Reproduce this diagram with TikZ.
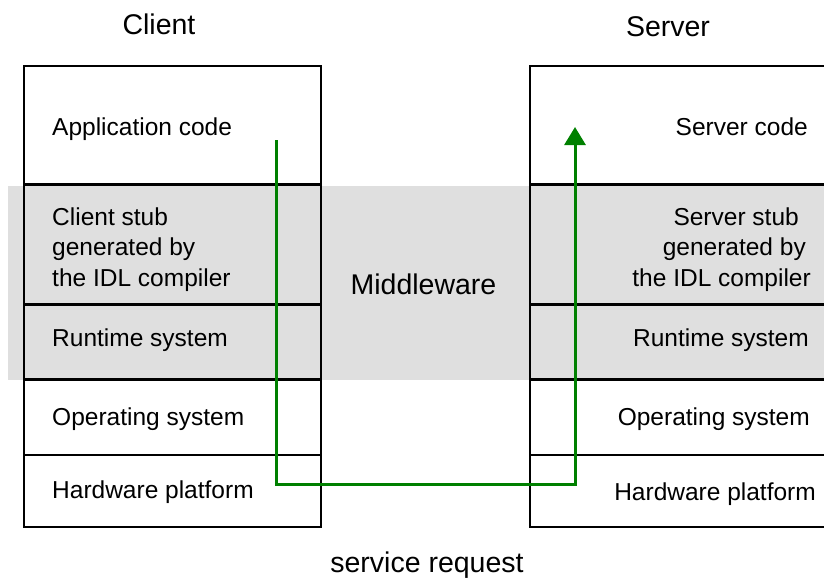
\documentclass[tikz,border=0pt]{standalone}
\usepackage{fontspec}
\setmainfont{Liberation Sans}
\usetikzlibrary{arrows.meta}
\definecolor{bandgray}{RGB}{223,223,223}
\definecolor{flowgreen}{RGB}{0,128,0}
\begin{document}
\begin{tikzpicture}[x=1pt,y=-1pt,
  cell/.style={draw=black,line width=1.4pt,rectangle,inner sep=0pt,minimum width=#1},
  cell/.default=297pt,
  sep/.style={draw=black,line width=2.4pt},
  lbl/.style={inner sep=0pt,font=\fontsize{24.5}{30}\selectfont},
  lbll/.style={lbl,anchor=base west},
  lblr/.style={lbl,anchor=base east},
  big/.style={inner sep=0pt,anchor=base,font=\fontsize{28.5}{34}\selectfont},
  flow/.style={draw=flowgreen,line width=3pt}
]
\useasboundingbox (0,0) rectangle (824,579);
% middleware band
\fill[bandgray] (8,186) rectangle (830,380);

% client stack
\node[cell,minimum height=119pt] (cA) at (172.5,125.5) {};
\node[cell,minimum height=120pt] (cB) at (172.5,245) {};
\node[cell,minimum height=75pt]  (cC) at (172.5,342.5) {};
\node[cell,minimum height=75pt]  (cD) at (172.5,417.5) {};
\node[cell,minimum height=72pt]  (cE) at (172.5,491) {};
% server stack
\node[cell=300pt,minimum height=119pt] (sA) at (680,125.5) {};
\node[cell=300pt,minimum height=120pt] (sB) at (680,245) {};
\node[cell=300pt,minimum height=75pt]  (sC) at (680,342.5) {};
\node[cell=300pt,minimum height=75pt]  (sD) at (680,417.5) {};
\node[cell=300pt,minimum height=72pt]  (sE) at (680,491) {};

% thicker separators
\draw[sep] (cB.north west) -- (cB.north east);
\draw[sep] (cC.north west) -- (cC.north east);
\draw[sep] (cD.north west) -- (cD.north east);
\draw[sep] (sB.north west) -- (sB.north east);
\draw[sep] (sC.north west) -- (sC.north east);
\draw[sep] (sD.north west) -- (sD.north east);

% client labels
\node[lbll] (tA) at (52,135) {Application code};
\node[lbll] (tB1) at (52,225) {Client stub};
\node[lbll] (tB2) at (52,255) {generated by};
\node[lbll] (tB3) at (52,286) {the IDL compiler};
\node[lbll] (tC) at (52,346) {Runtime system};
\node[lbll] (tD) at (52,425) {Operating system};
\node[lbll] (tE) at (52,498) {Hardware platform};

% server labels
\node[lblr] (uA) at (808,135) {Server code};
\node[lblr] (uB1) at (799,225) {Server stub};
\node[lblr] (uB2) at (806,255) {generated by};
\node[lblr] (uB3) at (811,286) {the IDL compiler};
\node[lblr] (uC) at (809,346) {Runtime system};
\node[lblr] (uD) at (810,425) {Operating system};
\node[lblr] (uE) at (816,500) {Hardware platform};

% headings
\node[big] (client) at (159,34) {Client};
\node[big] (server) at (668,36) {Server};
\node[big] (mw) at (423.5,294) {Middleware};
\node[big] (req) at (427,572) {service request};

% request flow
\coordinate (gstart) at (276,140);
\coordinate (gdown) at (276,484);
\coordinate (gacross) at (575,484);
\coordinate (gend) at (575,127);
\draw[flow,-{Triangle[length=18pt,width=21pt]}] (gstart) -- (gdown) -- (gacross) -- (gend);
\end{tikzpicture}
\end{document}
